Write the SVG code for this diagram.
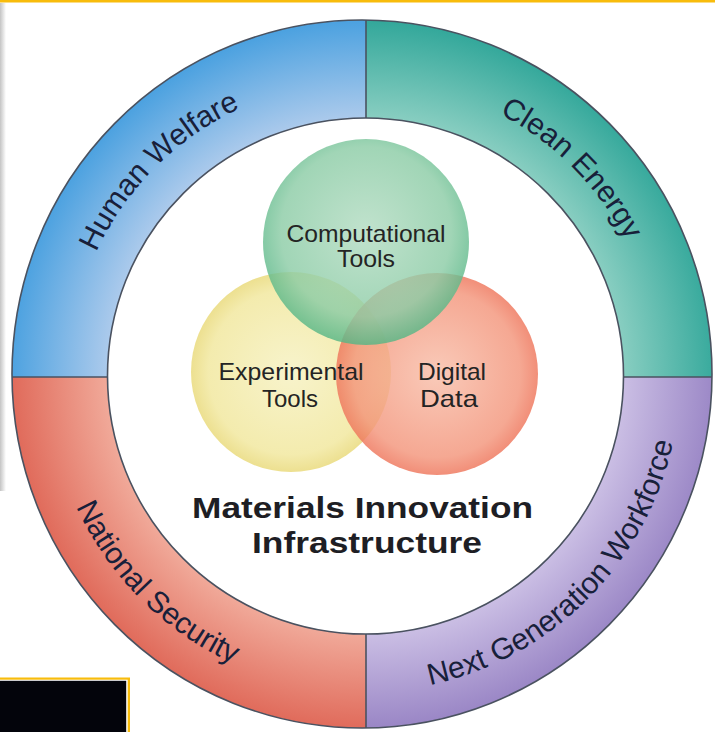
<svg xmlns="http://www.w3.org/2000/svg" width="715" height="732" viewBox="0 0 715 732">
  <style>
    .ring-label { font-family: "Liberation Sans", Arial, sans-serif; font-size: 30px; fill: #18203a; }
    .venn-label { font-family: "Liberation Sans", Arial, sans-serif; font-size: 24px; fill: #242424; text-anchor: middle; }
    .title { font-family: "Liberation Sans", Arial, sans-serif; font-size: 29px; font-weight: bold; fill: #1e1e24; text-anchor: middle; }
    .edge { fill: none; stroke: #4a5260; stroke-width: 1.6; }
    .venn { opacity: 0.82; }
  </style>
  <defs>
    <radialGradient id="gBlue" gradientUnits="userSpaceOnUse" cx="365" cy="376" r="354">
      <stop offset="0.72" stop-color="#aecbec"/>
      <stop offset="1" stop-color="#4da2e0"/>
    </radialGradient>
    <radialGradient id="gTeal" gradientUnits="userSpaceOnUse" cx="365" cy="376" r="354">
      <stop offset="0.72" stop-color="#8bcfc2"/>
      <stop offset="1" stop-color="#34a89b"/>
    </radialGradient>
    <radialGradient id="gRed" gradientUnits="userSpaceOnUse" cx="365" cy="376" r="354">
      <stop offset="0.72" stop-color="#f1ab9b"/>
      <stop offset="1" stop-color="#e06a5a"/>
    </radialGradient>
    <radialGradient id="gPurple" gradientUnits="userSpaceOnUse" cx="365" cy="376" r="354">
      <stop offset="0.72" stop-color="#ccc0e5"/>
      <stop offset="1" stop-color="#9985c5"/>
    </radialGradient>
    <radialGradient id="vGreen" cx="0.5" cy="0.45" r="0.55">
      <stop offset="0" stop-color="#b3dcc2"/>
      <stop offset="0.75" stop-color="#8ccca6"/>
      <stop offset="1" stop-color="#56b685"/>
    </radialGradient>
    <radialGradient id="vYellow" cx="0.5" cy="0.5" r="0.55">
      <stop offset="0" stop-color="#f6f1c0"/>
      <stop offset="0.75" stop-color="#f1e79c"/>
      <stop offset="1" stop-color="#e4d163"/>
    </radialGradient>
    <radialGradient id="vRed" cx="0.5" cy="0.5" r="0.55">
      <stop offset="0" stop-color="#f8bea9"/>
      <stop offset="0.75" stop-color="#f3957b"/>
      <stop offset="1" stop-color="#ec6449"/>
    </radialGradient>
    <linearGradient id="shadowL" x1="0" y1="0" x2="1" y2="0">
      <stop offset="0" stop-color="#c4c4c4"/>
      <stop offset="1" stop-color="#ffffff"/>
    </linearGradient>
    <clipPath id="cTL"><rect x="0" y="0" width="366" height="377"/></clipPath>
    <clipPath id="cTR"><rect x="366" y="0" width="349" height="377"/></clipPath>
    <clipPath id="cBL"><rect x="0" y="377" width="366" height="355"/></clipPath>
    <clipPath id="cBR"><rect x="366" y="377" width="349" height="355"/></clipPath>
    <path id="ringShape" fill-rule="evenodd" d="M 12 374 A 350 354 0 1 1 712 374 A 350 354 0 1 1 12 374 Z M 107.5 376 A 258 258 0 1 0 623.5 376 A 258 258 0 1 0 107.5 376 Z"/>
    <path id="arcTop" d="M 69 376 A 295 295 0 0 1 659 376"/>
    <path id="arcBottom" d="M 48 376 A 316 316 0 0 0 680 376"/>
  </defs>

  <rect x="0" y="0" width="715" height="732" fill="#ffffff"/>
  <rect x="0" y="3" width="6" height="488" fill="url(#shadowL)"/>
  <rect x="0" y="0" width="715" height="2.5" fill="#f8bc0c"/>

  <g id="human-welfare">
    <use href="#ringShape" fill="url(#gBlue)" clip-path="url(#cTL)"/>
    <text class="ring-label"><textPath href="#arcTop" startOffset="25%" text-anchor="middle">Human Welfare</textPath></text>
  </g>
  <g id="clean-energy">
    <use href="#ringShape" fill="url(#gTeal)" clip-path="url(#cTR)"/>
    <text class="ring-label"><textPath href="#arcTop" startOffset="75%" text-anchor="middle">Clean Energy</textPath></text>
  </g>
  <g id="national-security">
    <use href="#ringShape" fill="url(#gRed)" clip-path="url(#cBL)"/>
    <text class="ring-label"><textPath href="#arcBottom" startOffset="25%" text-anchor="middle">National Security</textPath></text>
  </g>
  <g id="next-generation-workforce">
    <use href="#ringShape" fill="url(#gPurple)" clip-path="url(#cBR)"/>
    <text class="ring-label"><textPath href="#arcBottom" startOffset="75%" text-anchor="middle">Next Generation Workforce</textPath></text>
  </g>

  <g id="ring-outlines">
    <ellipse class="edge" cx="362" cy="374" rx="350" ry="354"/>
    <circle class="edge" cx="365.5" cy="376" r="258"/>
    <line class="edge" x1="366" y1="20" x2="366" y2="118"/>
    <line class="edge" x1="366" y1="634" x2="366" y2="728"/>
    <line class="edge" x1="12" y1="377" x2="107.5" y2="377"/>
    <line class="edge" x1="623.5" y1="377" x2="712" y2="377"/>
  </g>

  <g id="experimental-tools">
    <circle class="venn" cx="291" cy="372" r="100" fill="url(#vYellow)"/>
  </g>
  <g id="digital-data">
    <circle class="venn" cx="437" cy="374" r="101" fill="url(#vRed)"/>
  </g>
  <g id="computational-tools">
    <circle class="venn" cx="366" cy="242" r="103" fill="url(#vGreen)"/>
  </g>

  <g id="venn-labels">
    <text class="venn-label" x="366" y="242" textLength="159" lengthAdjust="spacingAndGlyphs">Computational</text>
    <text class="venn-label" x="366" y="267" textLength="58" lengthAdjust="spacingAndGlyphs">Tools</text>
    <text class="venn-label" x="291" y="380" textLength="145" lengthAdjust="spacingAndGlyphs">Experimental</text>
    <text class="venn-label" x="290" y="407" textLength="56" lengthAdjust="spacingAndGlyphs">Tools</text>
    <text class="venn-label" x="452" y="380" textLength="68" lengthAdjust="spacingAndGlyphs">Digital</text>
    <text class="venn-label" x="449" y="407" textLength="58" lengthAdjust="spacingAndGlyphs">Data</text>
  </g>

  <g id="materials-innovation-infrastructure">
    <text class="title" x="362.5" y="518" textLength="341" lengthAdjust="spacingAndGlyphs">Materials Innovation</text>
    <text class="title" x="367" y="553" textLength="230" lengthAdjust="spacingAndGlyphs">Infrastructure</text>
  </g>

  <g id="corner-box">
    <rect x="-5" y="677.5" width="135" height="60" fill="#f8bc0c"/>
    <rect x="-5" y="679.7" width="132.7" height="60" fill="#ffffff"/>
    <rect x="-5" y="680.8" width="131.2" height="60" fill="#03040b"/>
  </g>

  <g id="connectors"/>
</svg>
